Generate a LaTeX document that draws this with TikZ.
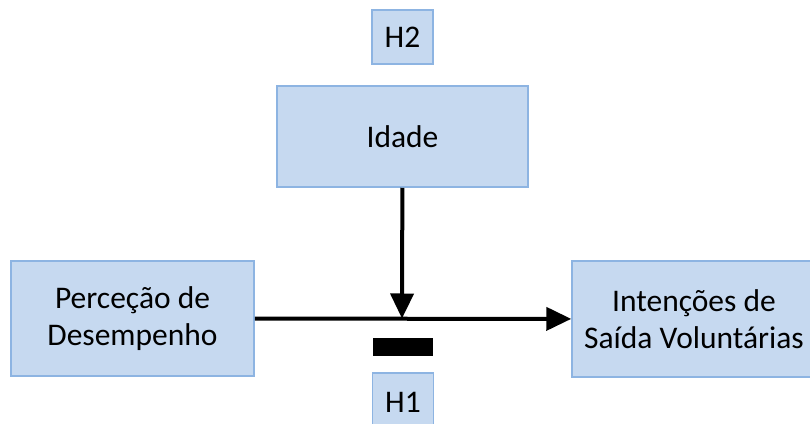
\documentclass[tikz,border=0pt]{standalone}
\usepackage{fontspec}
\setmainfont{Carlito}
\usepackage{tikz}
\usetikzlibrary{arrows.meta,positioning}
\definecolor{boxfill}{RGB}{198,217,240}
\definecolor{boxline}{RGB}{141,180,226}
\tikzset{
  varbox/.style={ draw=boxline, line width=1.5pt, fill=boxfill, align=center, inner sep=0pt, font=\fontsize{31.5}{37}\selectfont }
}
\tikzset{
  hbox/.style={ varbox, minimum width=61pt, minimum height=54pt }
}
\tikzset{
  negbar/.style={ fill=black, inner sep=0pt, minimum width=60pt, minimum height=18pt }
}
\tikzset{
  link/.style={ line width=4pt, -{Triangle[length=25pt, width=23pt]} }
}

\begin{document}
\begin{tikzpicture}[x=1pt, y=-1pt]
      \useasboundingbox (0, 0) rectangle (810, 423);
      \node[hbox] (h2) at (402.5, 37) {H2};
      \node[varbox, minimum width=251pt, minimum height=101pt] (idade) at (402.5, 136.5) {Idade};

      \node[varbox, minimum width=243pt, minimum height=115pt] (perc) at (132.5, 318.5) {Perceção de\\Desempenho};
      \node[varbox, minimum width=244pt, minimum height=116pt] (inten) at (694, 319) {Intenções de\\Saída Voluntárias};
      \coordinate (meet) at (402, 318.5);
      \draw[link] (perc) -- (inten);
      \draw[link] (idade) -- (meet);

      \node[negbar] (neg) at (403, 347) {};
      \node[hbox, minimum height=58pt] (h1) at (403, 402) {H1};
    \end{tikzpicture}
\end{document}
